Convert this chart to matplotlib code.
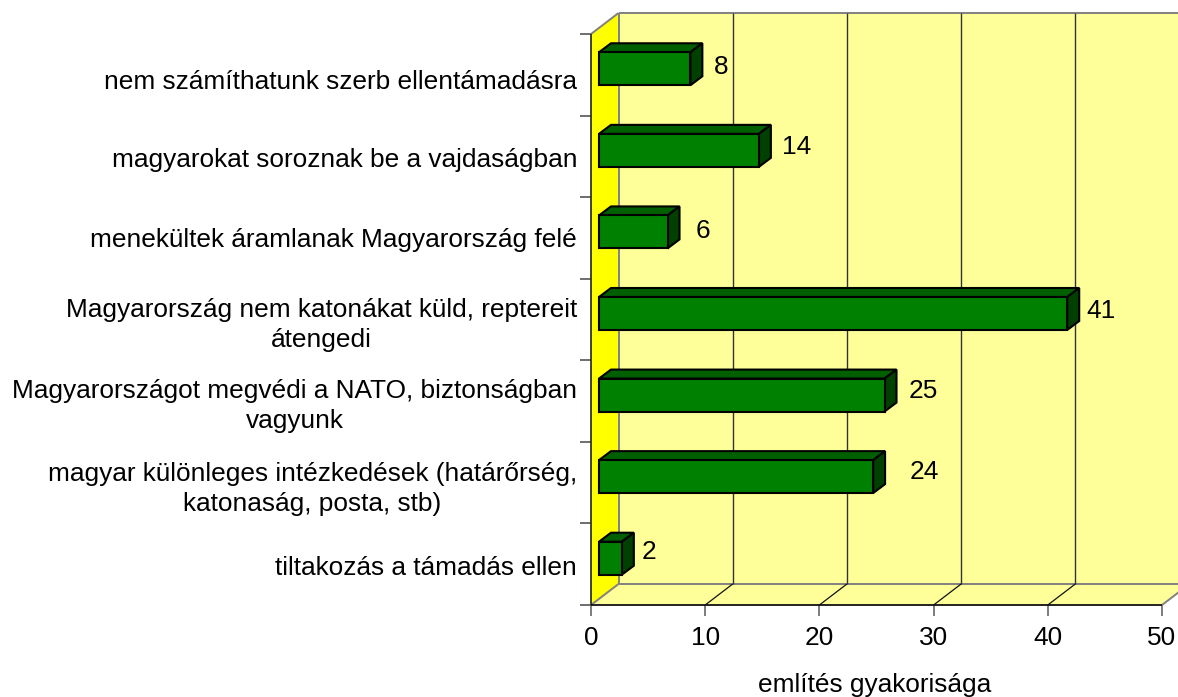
import matplotlib
matplotlib.use("Agg")
import matplotlib.pyplot as plt
from matplotlib.patches import Polygon
from matplotlib.transforms import ScaledTranslation

categories = [
    "nem számíthatunk szerb ellentámadásra",
    "magyarokat soroznak be a vajdaságban",
    "menekültek áramlanak Magyarország felé",
    "Magyarország nem katonákat küld, reptereit\nátengedi",
    "Magyarországot megvédi a NATO, biztonságban\nvagyunk",
    "magyar különleges intézkedések (határőrség,\nkatonaság, posta, stb)",
    "tiltakozás a támadás ellen",
]
values = [8, 14, 6, 41, 25, 24, 2]
x_ticks = [0, 10, 20, 30, 40, 50]
x_label = "említés gyakorisága"

# label nudges in pixels (dx, dy) relative to the bar's outer end
label_dx = [19, 26, 23, 22, 27, 39, 15]
label_dy = [1, -1, 2, 0, -2, -2, -4]
cat_dy = [5, 1, 0, 0, -1, 1, 1]

W, H = 1178, 697
X0, X1, Y_BOT, Y_TOP = 591, 1162, 605, 34
PX_X = (X1 - X0) / 50
PX_Y = (Y_BOT - Y_TOP) / 7
DX = 27.5 / PX_X     # wall depth, data units
DY = 21 / PX_Y
BAR_OFF = 8 / PX_X
BAR_H = 33 / PX_Y
BAR_DX = 12 / PX_X
BAR_DY = 9 / PX_Y
BAR_SHIFT = 6 / PX_Y
FS = 18.9

WALL = "#FFFF99"
SIDE = "#FFFF00"
GRID = "#333333"
EDGE = "#808080"

plt.rcParams["font.family"] = ["Liberation Sans", "DejaVu Sans"]
fig = plt.figure(figsize=(W / 100, H / 100), dpi=100)
ax = fig.add_axes([X0 / W, 1 - Y_BOT / H, (X1 - X0) / W, (Y_BOT - Y_TOP) / H])
ax.set_xlim(0, 50)
ax.set_ylim(7, 0)
ax.patch.set_alpha(0)
for s in ax.spines.values():
    s.set_visible(False)


def poly(pts, fc, ec="none", lw=0, z=1):
    ax.add_patch(Polygon(pts, closed=True, facecolor=fc, edgecolor=ec, linewidth=lw,
                         zorder=z, clip_on=False, joinstyle="miter"))


def line(xs, ys, c, lw=1.0, z=2):
    ax.plot(xs, ys, color=c, lw=lw, zorder=z, clip_on=False, solid_capstyle="butt")


# walls
poly([(DX, -DY), (50 + DX, -DY), (50 + DX, 7 - DY), (DX, 7 - DY)], WALL)
poly([(0, 7), (50, 7), (50 + DX, 7 - DY), (DX, 7 - DY)], WALL)
poly([(0, 0), (DX, -DY), (DX, 7 - DY), (0, 7)], SIDE)

# wall outlines
line([DX, 50 + DX], [-DY, -DY], EDGE, 1.4)
line([DX, 50 + DX], [7 - DY, 7 - DY], EDGE, 1.4)
line([DX, DX], [-DY, 7 - DY], EDGE, 1.4)
line([0, DX], [7, 7 - DY], EDGE, 1.4)
line([0, DX], [0, -DY], EDGE, 1.4)
line([50, 50 + DX], [7, 7 - DY], EDGE, 1.4)

# gridlines on floor and back wall
for t in x_ticks[1:-1]:
    line([t + DX, t + DX], [-DY, 7 - DY], GRID, 1.0)
    line([t, t + DX], [7, 7 - DY], "#111111", 0.9)

# front axes
line([0, 0], [0, 7], "#222222", 1.2, 3)
line([0, 50], [7, 7], "#111111", 1.3, 3)

# bars
for i, v in enumerate(values):
    x0 = BAR_OFF
    x1 = BAR_OFF + v
    yc = i + 0.5 - BAR_SHIFT
    yt, yb = yc - BAR_H / 2, yc + BAR_H / 2
    poly([(x0, yt), (x0 + BAR_DX, yt - BAR_DY), (x1 + BAR_DX, yt - BAR_DY), (x1, yt)],
         "#006000", "black", 1.5, 5)
    poly([(x1, yt), (x1 + BAR_DX, yt - BAR_DY), (x1 + BAR_DX, yb - BAR_DY), (x1, yb)],
         "#004000", "black", 1.5, 5)
    poly([(x0, yt), (x1, yt), (x1, yb), (x0, yb)], "#008000", "black", 1.5, 6)
    ax.annotate(str(v), xy=(x1 + BAR_DX, yc - BAR_DY / 2),
                xytext=(label_dx[i] * 0.72, (-label_dy[i] - 2) * 0.72),
                textcoords="offset points", ha="center", va="center",
                fontsize=FS, color="black", zorder=8, annotation_clip=False)

# ticks
ax.set_xticks(x_ticks)
ax.set_xticklabels([str(t) for t in x_ticks], fontsize=FS)
ax.tick_params(axis="x", length=8, width=1.2, color="#666666", pad=7)
ax.set_yticks(range(8))
ax.set_yticklabels([])
ax.tick_params(axis="y", which="major", length=8, width=1.2, color="#555555")
ax.set_yticks([i + 0.5 for i in range(7)], minor=True)
ax.set_yticklabels(categories, minor=True, fontsize=FS, ma="center", linespacing=1.32)
ax.tick_params(axis="y", which="minor", length=0, pad=10)
for lab, d in zip(ax.get_yticklabels(minor=True), cat_dy):
    lab.set_transform(lab.get_transform() + ScaledTranslation(0, -d / 100, fig.dpi_scale_trans))

ax.set_xlabel(x_label, fontsize=FS)
ax.xaxis.set_label_coords((875 - X0) / (X1 - X0), -(685 - Y_BOT) / (Y_BOT - Y_TOP))
ax.xaxis.label.set_verticalalignment("center")

fig.savefig("out.png", dpi=100)
